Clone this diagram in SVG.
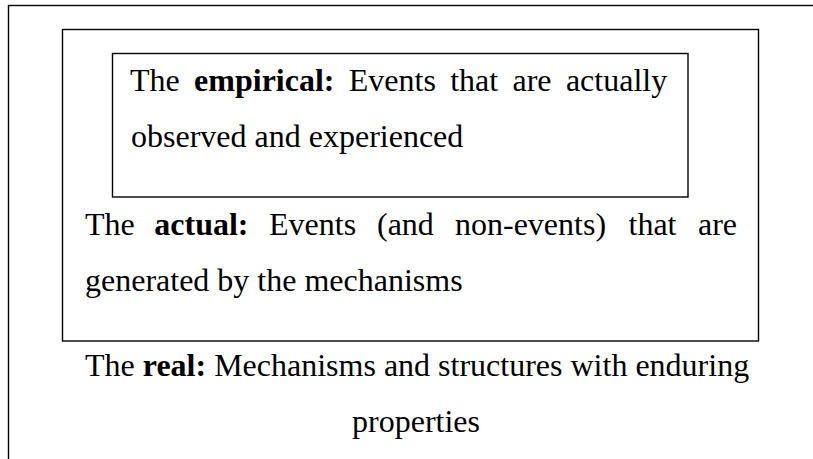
<svg xmlns="http://www.w3.org/2000/svg" width="813" height="459" viewBox="0 0 813 459">
  <style>
    .frame { fill: none; stroke: #000; stroke-width: 1.4; }
    .txt { font-family: "Liberation Serif", "Times New Roman", serif; font-size: 32px; fill: #000; }
    .b { font-weight: bold; }
  </style>
  <rect width="813" height="459" fill="#fff"/>

  <!-- The real: outermost layer (runs past the right and bottom edges) -->
  <g id="real">
    <rect class="frame" x="8.5" y="5.5" width="830" height="480"/>
    <text class="txt" y="376"><tspan x="85">The </tspan><tspan class="b">real:</tspan> Mechanisms and structures with enduring</text>
    <text class="txt" x="416" y="432" text-anchor="middle">properties</text>
  </g>

  <!-- The actual: middle layer -->
  <g id="actual">
    <rect class="frame" x="62.5" y="29.5" width="696" height="311.5"/>
    <text class="txt" y="235"><tspan x="85">The</tspan><tspan x="154.3" class="b">actual:</tspan><tspan x="269">Events</tspan><tspan x="377">(and</tspan><tspan x="455">non-events)</tspan><tspan x="628.5">that</tspan><tspan x="698">are</tspan></text>
    <text class="txt" x="85" y="291">generated by the mechanisms</text>
  </g>

  <!-- The empirical: innermost layer -->
  <g id="empirical">
    <rect class="frame" x="112.5" y="53.5" width="575.5" height="143.5"/>
    <text class="txt" y="91"><tspan x="130">The</tspan><tspan x="194.1" class="b">empirical:</tspan><tspan x="348.8">Events</tspan><tspan x="450.2">that</tspan><tspan x="512.5">are</tspan><tspan x="565.9">actually</tspan></text>
    <text class="txt" x="131" y="147">observed and experienced</text>
  </g>

  <g id="connectors"></g>
</svg>
